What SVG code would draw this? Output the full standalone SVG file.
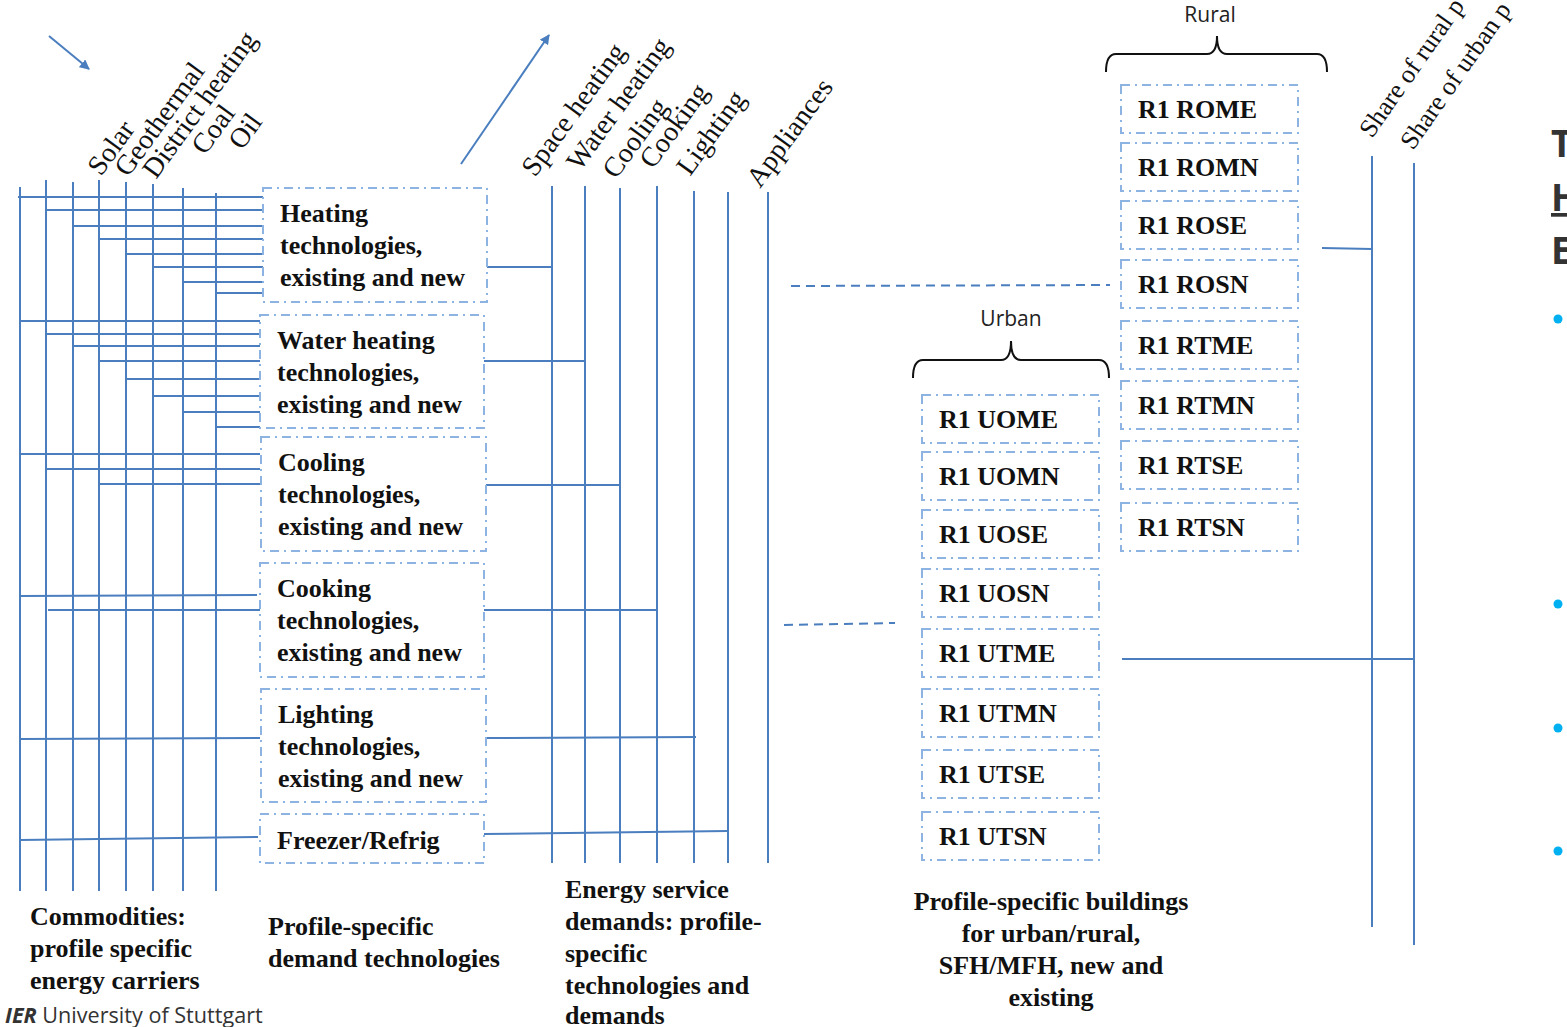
<svg xmlns="http://www.w3.org/2000/svg" width="1567" height="1027" viewBox="0 0 1567 1027">
<defs>
<style>
.ln{stroke:#4a7ebf;stroke-width:2;fill:none}
.dl{stroke:#4a7ebf;stroke-width:2;fill:none;stroke-dasharray:9,6}
.bx{stroke:#8db3e2;stroke-width:2;fill:#fff;stroke-dasharray:9,5,2,5}
.br{stroke:#111;stroke-width:2;fill:none}
.bt{font-family:"Liberation Serif","Times New Roman",serif;font-weight:bold;font-size:26px;fill:#111}
.rt{font-family:"Liberation Serif","Times New Roman",serif;font-size:28px;fill:#111}
.sn{font-family:"Open Sans","Liberation Sans",Arial,sans-serif;font-size:21px;fill:#222}
</style>
<marker id="ah" viewBox="0 0 10 10" refX="9" refY="5" markerWidth="5" markerHeight="5" orient="auto" markerUnits="strokeWidth">
<path d="M0,0 L10,5 L0,10 z" fill="#4a7ebf"/>
</marker>
</defs>
<rect width="1567" height="1027" fill="#fff"/>

<g id="connectors">
<line class="ln" x1="20" y1="187" x2="20" y2="891"/>
<line class="ln" x1="46" y1="180" x2="46" y2="891"/>
<line class="ln" x1="73" y1="182" x2="73" y2="891"/>
<line class="ln" x1="99" y1="180" x2="99" y2="891"/>
<line class="ln" x1="126" y1="182" x2="126" y2="891"/>
<line class="ln" x1="153" y1="184" x2="153" y2="891"/>
<line class="ln" x1="183" y1="188" x2="183" y2="891"/>
<line class="ln" x1="216" y1="193" x2="216" y2="891"/>
<line class="ln" x1="18" y1="197" x2="263" y2="197"/>
<line class="ln" x1="46" y1="210" x2="263" y2="210"/>
<line class="ln" x1="73" y1="226" x2="263" y2="226"/>
<line class="ln" x1="99" y1="239" x2="263" y2="239"/>
<line class="ln" x1="126" y1="254" x2="263" y2="254"/>
<line class="ln" x1="153" y1="267" x2="263" y2="267"/>
<line class="ln" x1="183" y1="282" x2="263" y2="282"/>
<line class="ln" x1="216" y1="293" x2="263" y2="293"/>
<line class="ln" x1="20" y1="321" x2="260" y2="321"/>
<line class="ln" x1="46" y1="334" x2="260" y2="334"/>
<line class="ln" x1="73" y1="346" x2="260" y2="346"/>
<line class="ln" x1="99" y1="361" x2="260" y2="361"/>
<line class="ln" x1="126" y1="379" x2="260" y2="379"/>
<line class="ln" x1="153" y1="396" x2="260" y2="396"/>
<line class="ln" x1="183" y1="412" x2="260" y2="412"/>
<line class="ln" x1="216" y1="427" x2="260" y2="427"/>
<line class="ln" x1="20" y1="454" x2="260" y2="454"/>
<line class="ln" x1="46" y1="469" x2="260" y2="469"/>
<line class="ln" x1="99" y1="484" x2="260" y2="484"/>
<line class="ln" x1="20" y1="596" x2="257" y2="595"/>
<line class="ln" x1="48" y1="610" x2="260" y2="610"/>
<line class="ln" x1="20" y1="739" x2="260" y2="738"/>
<line class="ln" x1="20" y1="840" x2="258" y2="837"/>
<line class="ln" x1="552" y1="186" x2="552" y2="863"/>
<line class="ln" x1="585" y1="186" x2="585" y2="863"/>
<line class="ln" x1="620" y1="188" x2="620" y2="863"/>
<line class="ln" x1="657" y1="186" x2="657" y2="863"/>
<line class="ln" x1="694" y1="191" x2="694" y2="863"/>
<line class="ln" x1="728" y1="192" x2="728" y2="863"/>
<line class="ln" x1="768" y1="192" x2="768" y2="863"/>
<line class="ln" x1="487" y1="267" x2="552" y2="267"/>
<line class="ln" x1="484" y1="361" x2="585" y2="361"/>
<line class="ln" x1="486" y1="485" x2="620" y2="485"/>
<line class="ln" x1="484" y1="610" x2="657" y2="610"/>
<line class="ln" x1="486" y1="738" x2="696" y2="737"/>
<line class="ln" x1="484" y1="834" x2="728" y2="831"/>
<line class="dl" x1="791" y1="286" x2="1110" y2="285"/>
<line class="dl" x1="784" y1="625" x2="895" y2="623"/>
<line class="ln" x1="1372" y1="156" x2="1372" y2="927"/>
<line class="ln" x1="1414" y1="163" x2="1414" y2="945"/>
<line class="ln" x1="1322" y1="248" x2="1372" y2="249"/>
<line class="ln" x1="1122" y1="659" x2="1414" y2="659"/>
<line class="ln" x1="49" y1="36" x2="89" y2="69" marker-end="url(#ah)"/>
<line class="ln" x1="461" y1="164" x2="549" y2="35" marker-end="url(#ah)"/>
<path class="br" d="M1106,72 Q1106,54 1116,54 L1207,54 Q1217,54 1217,36 Q1217,54 1227,54 L1317,54 Q1327,54 1327,72"/>
<path class="br" d="M913,378 Q913,360 923,360 L1001,360 Q1011,360 1011,341 Q1011,360 1021,360 L1099,360 Q1109,360 1109,378"/>
</g>

<g id="commodity-labels" class="rt">
<text transform="translate(101,177) rotate(-54)">Solar</text>
<text transform="translate(128,178) rotate(-54)">Geothermal</text>
<text transform="translate(156,180) rotate(-54)">District heating</text>
<text transform="translate(205,156) rotate(-54)">Coal</text>
<text transform="translate(242,151) rotate(-54)">Oil</text>
</g>
<g id="service-labels" class="rt">
<text transform="translate(535,178) rotate(-54)">Space heating</text>
<text transform="translate(580,172) rotate(-54)">Water heating</text>
<text transform="translate(616,180) rotate(-54)">Cooling</text>
<text transform="translate(653,170) rotate(-54)">Cooking</text>
<text transform="translate(690,177) rotate(-54)">Lighting</text>
<text transform="translate(760,189) rotate(-54)">Appliances</text>
</g>
<g id="share-labels" class="rt" font-size="26">
<text style="font-size:26px" transform="translate(1372,139) rotate(-55)">Share of rural p</text>
<text style="font-size:26px" transform="translate(1413,151) rotate(-55)">Share of urban p</text>
</g>

<g id="tech-heating"><rect class="bx" x="263" y="188" width="224" height="114"/>
<text class="bt" x="280" y="222">Heating</text><text class="bt" x="280" y="254">technologies,</text><text class="bt" x="280" y="286">existing and new</text></g>
<g id="tech-water"><rect class="bx" x="260" y="315" width="224" height="113"/>
<text class="bt" x="277" y="349">Water heating</text><text class="bt" x="277" y="381">technologies,</text><text class="bt" x="277" y="413">existing and new</text></g>
<g id="tech-cooling"><rect class="bx" x="261" y="437" width="225" height="114"/>
<text class="bt" x="278" y="471">Cooling</text><text class="bt" x="278" y="503">technologies,</text><text class="bt" x="278" y="535">existing and new</text></g>
<g id="tech-cooking"><rect class="bx" x="260" y="563" width="224" height="114"/>
<text class="bt" x="277" y="597">Cooking</text><text class="bt" x="277" y="629">technologies,</text><text class="bt" x="277" y="661">existing and new</text></g>
<g id="tech-lighting"><rect class="bx" x="261" y="689" width="225" height="113"/>
<text class="bt" x="278" y="723">Lighting</text><text class="bt" x="278" y="755">technologies,</text><text class="bt" x="278" y="787">existing and new</text></g>
<g id="tech-freezer"><rect class="bx" x="260" y="814" width="224" height="49"/>
<text class="bt" x="277" y="849">Freezer/Refrig</text></g>

<g id="rural-label"><text class="sn" x="1210" y="22" text-anchor="middle">Rural</text></g>
<g id="b-rome"><rect class="bx" x="1121" y="85" width="177" height="48"/><text class="bt" x="1138" y="118">R1 ROME</text></g>
<g id="b-romn"><rect class="bx" x="1121" y="143" width="177" height="48"/><text class="bt" x="1138" y="176">R1 ROMN</text></g>
<g id="b-rose"><rect class="bx" x="1121" y="201" width="177" height="48"/><text class="bt" x="1138" y="234">R1 ROSE</text></g>
<g id="b-rosn"><rect class="bx" x="1121" y="260" width="177" height="48"/><text class="bt" x="1138" y="293">R1 ROSN</text></g>
<g id="b-rtme"><rect class="bx" x="1121" y="321" width="177" height="48"/><text class="bt" x="1138" y="354">R1 RTME</text></g>
<g id="b-rtmn"><rect class="bx" x="1121" y="381" width="177" height="48"/><text class="bt" x="1138" y="414">R1 RTMN</text></g>
<g id="b-rtse"><rect class="bx" x="1121" y="441" width="177" height="48"/><text class="bt" x="1138" y="474">R1 RTSE</text></g>
<g id="b-rtsn"><rect class="bx" x="1121" y="503" width="177" height="48"/><text class="bt" x="1138" y="536">R1 RTSN</text></g>

<g id="urban-label"><text class="sn" x="1011" y="326" text-anchor="middle">Urban</text></g>
<g id="b-uome"><rect class="bx" x="922" y="395" width="177" height="48"/><text class="bt" x="939" y="428">R1 UOME</text></g>
<g id="b-uomn"><rect class="bx" x="922" y="452" width="177" height="48"/><text class="bt" x="939" y="485">R1 UOMN</text></g>
<g id="b-uose"><rect class="bx" x="922" y="510" width="177" height="48"/><text class="bt" x="939" y="543">R1 UOSE</text></g>
<g id="b-uosn"><rect class="bx" x="922" y="569" width="177" height="48"/><text class="bt" x="939" y="602">R1 UOSN</text></g>
<g id="b-utme"><rect class="bx" x="922" y="629" width="177" height="48"/><text class="bt" x="939" y="662">R1 UTME</text></g>
<g id="b-utmn"><rect class="bx" x="922" y="689" width="177" height="48"/><text class="bt" x="939" y="722">R1 UTMN</text></g>
<g id="b-utse"><rect class="bx" x="922" y="750" width="177" height="48"/><text class="bt" x="939" y="783">R1 UTSE</text></g>
<g id="b-utsn"><rect class="bx" x="922" y="812" width="177" height="48"/><text class="bt" x="939" y="845">R1 UTSN</text></g>

<g id="cap-commodities" class="bt">
<text x="30" y="925">Commodities:</text><text x="30" y="957">profile specific</text><text x="30" y="989">energy carriers</text></g>
<g id="cap-tech" class="bt">
<text x="268" y="935">Profile-specific</text><text x="268" y="967">demand technologies</text></g>
<g id="cap-demands" class="bt">
<text x="565" y="898">Energy service</text><text x="565" y="930">demands: profile-</text><text x="565" y="962">specific</text><text x="565" y="994">technologies and</text><text x="565" y="1024">demands</text></g>
<g id="cap-buildings" class="bt" text-anchor="middle">
<text x="1051" y="910">Profile-specific buildings</text><text x="1051" y="942">for urban/rural,</text><text x="1051" y="974">SFH/MFH, new and</text><text x="1051" y="1006">existing</text></g>

<g id="footer"><text x="5" y="1023" font-family="'Open Sans','Liberation Sans',Arial,sans-serif" font-size="21.6" fill="#333"><tspan font-weight="bold" font-style="italic">IER</tspan> University of Stuttgart</text></g>

<g id="slide-edge" font-family="'Open Sans','Liberation Sans',Arial,sans-serif" font-weight="bold" font-size="37" fill="#333">
<text x="1551" y="157">T</text>
<text x="1551" y="211" text-decoration="underline">H</text>
<text x="1551" y="264">E</text>
<circle cx="1558" cy="319" r="4.5" fill="#00b0f0"/>
<circle cx="1558" cy="604" r="4.5" fill="#00b0f0"/>
<circle cx="1558" cy="728" r="4.5" fill="#00b0f0"/>
<circle cx="1558" cy="851" r="4.5" fill="#00b0f0"/>
</g>
</svg>
